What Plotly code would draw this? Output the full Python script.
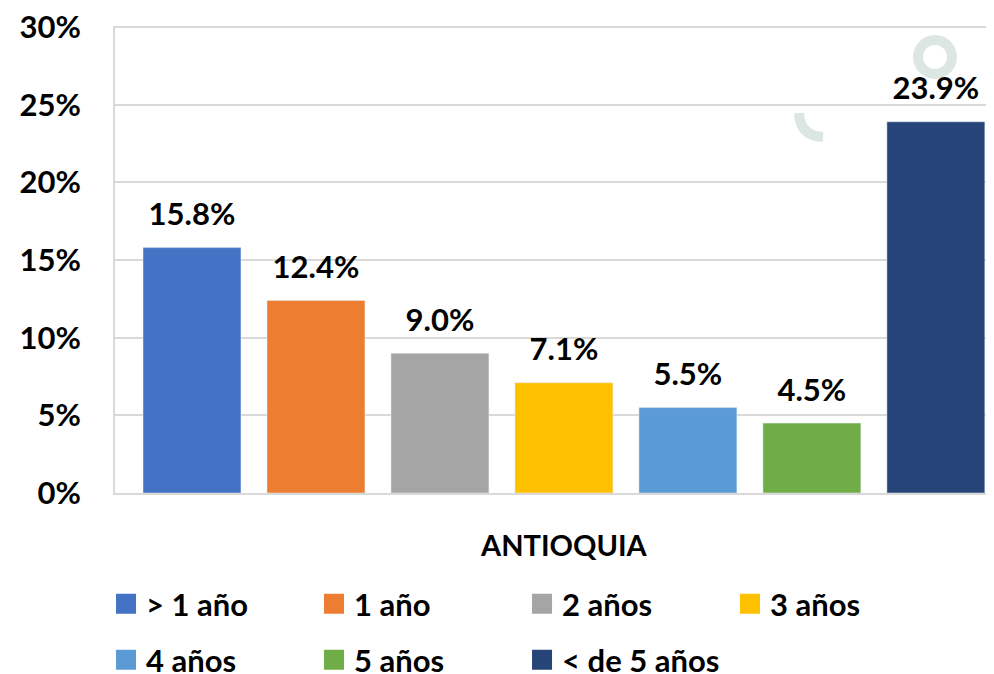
import plotly.graph_objects as go

categories = ["ANTIOQUIA"]
series_names = ["> 1 año", "1 año", "2 años", "3 años", "4 años", "5 años", "< de 5 años"]
series_values = [15.8, 12.4, 9.0, 7.1, 5.5, 4.5, 23.9]
series_colors = ["#4472C4", "#ED7D31", "#A5A5A5", "#FFC000", "#5B9BD5", "#70AD47", "#264478"]
y_ticks = [0, 5, 10, 15, 20, 25, 30]
y_tick_labels = ["0%", "5%", "10%", "15%", "20%", "25%", "30%"]

FONT = "Lato"
FS = 31
BARGAP = 0.0334
GROUPGAP = 0.21
Y_MAX = 30.07

# The page body adds an 8px offset to the figure.
OFF = 8
FIG_W, FIG_H = 994 - OFF, 674
# plot area in screen pixels
L, R, T, B = 115, 994, 26, 493


def px(xs):
    return (xs - L) / (R - L)


def py(ys):
    return (B - ys) / (B - T)


fig = go.Figure()
for i, (name, val, col) in enumerate(zip(series_names, series_values, series_colors)):
    og = f"g{i}"
    fig.add_trace(go.Bar(
        x=categories, y=[val], name=name, marker_color=col,
        offsetgroup=og, alignmentgroup="a", showlegend=False, hoverinfo="skip",
    ))
    fig.add_trace(go.Scatter(
        x=categories, y=[val], mode="markers+text",
        marker=dict(size=22, opacity=0, color=col),
        text=[f"{val:.1f}%"], textposition="top center",
        textfont=dict(family=FONT, size=FS, color="black", weight="bold"),
        offsetgroup=og, alignmentgroup="a", showlegend=False, hoverinfo="skip",
        cliponaxis=False,
    ))
    fig.add_trace(go.Scatter(
        x=[None], y=[None], mode="markers", name=name,
        marker=dict(symbol="square", size=16, color=col, line=dict(color=col, width=4)),
        offsetgroup=og, alignmentgroup="a",
        legend="legend" if i < 4 else "legend2",
    ))

legend_common = dict(
    orientation="h", x=-0.0102, xanchor="left", yanchor="middle",
    font=dict(family=FONT, size=FS, color="black", weight="bold"),
    entrywidth=163, entrywidthmode="pixels", itemsizing="trace",
    bgcolor="rgba(0,0,0,0)",
)

wm = "#dce7e4"
fig.add_shape(type="circle", xref="paper", yref="paper",
              x0=px(918), x1=px(952), y0=py(40), y1=py(74),
              line=dict(color=wm, width=10), layer="below")
fig.add_shape(type="path", xref="paper", yref="paper",
              path=f"M {px(799)},{py(113)} Q {px(800)},{py(136)} {px(823)},{py(137)}",
              line=dict(color=wm, width=10), layer="below")

fig.update_layout(
    width=FIG_W, height=FIG_H,
    margin=dict(l=L - OFF, r=0, t=T - OFF, b=FIG_H - (B - OFF), autoexpand=False),
    paper_bgcolor="white", plot_bgcolor="white",
    barmode="group", bargap=BARGAP, bargroupgap=GROUPGAP,
    scattermode="group", scattergap=BARGAP,
    legend=dict(y=py(604), **legend_common),
    legend2=dict(y=py(660), **legend_common),
    xaxis=dict(
        type="category", range=[-0.5, 0.479], automargin=False,
        showline=True, linecolor="#d9d9d9", linewidth=2,
        showgrid=False, ticks="",
        tickfont=dict(family=FONT, size=29, color="black", weight="bold"),
        ticklabelstandoff=26,
    ),
    yaxis=dict(
        range=[0, Y_MAX], tickvals=y_ticks, ticktext=y_tick_labels, automargin=False,
        showgrid=True, gridcolor="#d9d9d9", gridwidth=2,
        showline=True, linecolor="#d9d9d9", linewidth=2,
        zeroline=False, ticks="", ticklabeloverflow="allow",
        tickfont=dict(family=FONT, size=FS, color="black", weight="bold"),
        ticklabelstandoff=26,
    ),
    showlegend=True,
)

fig.write_html("out.html")
